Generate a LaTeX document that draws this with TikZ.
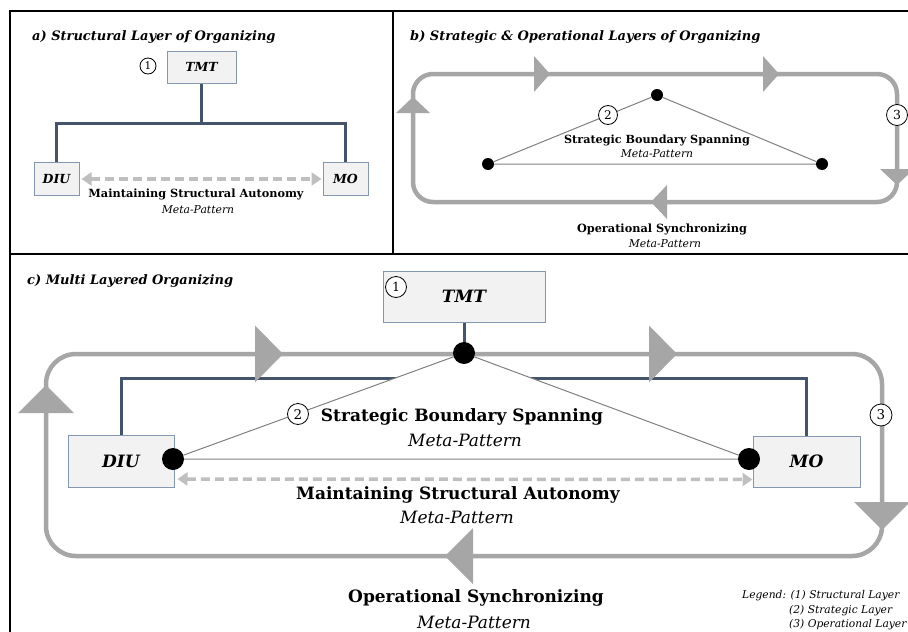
\documentclass[tikz,border=0pt]{standalone}
\usepackage{fontspec}
\setmainfont{DejaVu Serif}
\usetikzlibrary{arrows.meta,positioning}
\definecolor{slate}{HTML}{44546A}
\definecolor{flowgray}{HTML}{A6A6A6}
\definecolor{boxfill}{HTML}{F2F2F2}
\definecolor{boxline}{HTML}{8497B0}
\definecolor{dashgray}{HTML}{BFBFBF}
\definecolor{thingray}{HTML}{808080}

\newcommand{\fsz}[1]{\fontsize{#1}{#1}\selectfont}
% big flow triangles: tip, angle, length, half width
\newcommand{\flowtip}[4]{\fill[flowgray,shift={(#1)},rotate=#2] (0,0) -- (-#3,#4) -- (-#3,-#4) -- cycle;}

\tikzset{
  frameline/.style={draw=black,line width=2.5pt},
  unitbox/.style={draw=boxline,fill=boxfill,line width=1pt,inner sep=0pt,font=\fsz{#1}\bfseries\itshape},
  layernum/.style={circle,draw,fill=white,inner sep=0pt,line width=0.8pt,font=\fsz{#1}},
  spot/.style={circle,fill=black,inner sep=0pt},
  structline/.style={draw=slate,line width=3pt},
  stratline/.style={draw=thingray,line width=1pt},
  flowline/.style={draw=flowgray,line width=4.5pt},
  autoline/.style={draw=dashgray,line width=3.5pt,dash pattern=on 9pt off 5pt,
    {Triangle[length=10pt,width=13pt]}-{Triangle[length=10pt,width=13pt]}},
  paneltitle/.style={anchor=west,inner sep=0pt,font=\fsz{13}\bfseries\itshape},
  patname/.style={inner sep=0pt,font=\fsz{#1}\bfseries},
  metaname/.style={inner sep=0pt,font=\fsz{#1}\itshape},
}

\begin{document}
\begin{tikzpicture}[x=1pt,y=-1pt]
\useasboundingbox (0,0) rectangle (908,632);
\clip (0,0) rectangle (908,632);
\fill[white] (0,0) rectangle (908,632);

% panel frames
\draw[frameline] (10,632) -- (10,11) -- (908,11);
\draw[frameline] (10,254) -- (908,254);
\draw[frameline] (393,11) -- (393,254);

% a) structural layer
\node[paneltitle] (titleA) at (32,37) {a) Structural Layer of Organizing};
\node[unitbox=12.5,minimum width=69pt,minimum height=32pt] (tmtA) at (201.5,67) {TMT};
\node[unitbox=12.5,minimum width=45pt,minimum height=33pt] (diuA) at (56.5,179) {DIU};
\node[unitbox=12.5,minimum width=45pt,minimum height=33pt] (moA) at (345.5,179) {MO};
\node[layernum=10.5,minimum size=16pt] (oneA) at (148,66) {1};
\coordinate (busA) at (201.5,123);
\draw[structline] (tmtA) -- (busA);
\draw[structline] (diuA.north) |- (busA) -| (moA.north);
\draw[autoline,shorten <=2pt,shorten >=1pt] (diuA) -- (moA);
\node[patname=11.3] (autoA) at (196,194) {Maintaining Structural Autonomy};
\node[metaname=10.8] (metaA) at (198,210) {Meta-Pattern};

% b) strategic & operational layers
\node[paneltitle] (titleB) at (410,37) {b) Strategic \& Operational Layers of Organizing};
\draw[flowline,rounded corners=20pt] (413,74) rectangle (897,202);
\flowtip{550,74}{0}{16}{18}
\flowtip{779,74}{0}{16}{18}
\flowtip{413,97}{90}{16}{17}
\flowtip{897,185}{-90}{16}{17}
\flowtip{651,202}{180}{16}{17}
\node[spot,minimum size=12pt] (apexB) at (657,95) {};
\node[spot,minimum size=12pt] (leftB) at (488,164) {};
\node[spot,minimum size=12pt] (rightB) at (822,164) {};
\draw[stratline] (leftB) -- (apexB) -- (rightB) -- (leftB);
\node[layernum=12,minimum size=19pt] (twoB) at (608,115) {2};
\node[layernum=12.5,minimum size=21pt] (threeB) at (897,115) {3};
\node[patname=11.2] (spanB) at (657,140) {Strategic Boundary Spanning};
\node[metaname=10.8] (metaB1) at (657,154) {Meta-Pattern};
\node[patname=11.3] (syncB) at (662,229) {Operational Synchronizing};
\node[metaname=10.8] (metaB2) at (665,244) {Meta-Pattern};

% c) multi layered
\node[paneltitle] (titleC) at (27,281) {c) Multi Layered Organizing};
\node[unitbox=17,minimum width=162pt,minimum height=51pt] (tmtC) at (464,296.5) {TMT};
\node[unitbox=17,minimum width=106pt,minimum height=52pt] (diuC) at (121,461) {DIU};
\node[unitbox=17,minimum width=107pt,minimum height=51pt] (moC) at (806.5,461.5) {MO};
\node[layernum=12.5,minimum size=21pt] (oneC) at (396,287) {1};
\coordinate (apexCpos) at (464,353);
\coordinate (diuDotpos) at (173,459);
\coordinate (moDotpos) at (749,459);
\coordinate (busC) at (464,378);
\draw[structline] (tmtC) -- (apexCpos);
\draw[structline] (diuC.north) |- (busC) -| (moC.north);
\fill[white] (diuDotpos) -- (apexCpos) -- (moDotpos) -- cycle;
\draw[flowline,rounded corners=30pt] (46,354) rectangle (882,556);
\flowtip{283,354}{0}{28}{28.5}
\flowtip{677,354}{0}{28}{28.5}
\flowtip{46,385}{90}{28}{28}
\flowtip{882,530}{-90}{28}{28}
\flowtip{445,556}{180}{28}{28}
\node[spot,minimum size=22pt] (apexC) at (apexCpos) {};
\node[spot,minimum size=22pt] (diuDot) at (diuDotpos) {};
\node[spot,minimum size=22pt] (moDot) at (moDotpos) {};
\draw[stratline] (diuDot) -- (apexC) -- (moDot) -- (diuDot);
\draw[autoline,shorten <=3pt] ([yshift=-18pt]diuC.east) -- ([yshift=-18pt]moC.west);
\node[layernum=13.5,minimum size=21pt] (twoC) at (298,414) {2};
\node[layernum=13.5,minimum size=22pt] (threeC) at (881,415) {3};
\node[patname=17] (spanC) at (462,417) {Strategic Boundary Spanning};
\node[metaname=17] (metaC1) at (465,440) {Meta-Pattern};
\node[patname=17] (autoC) at (458,495) {Maintaining Structural Autonomy};
\node[metaname=17] (metaC2) at (457,517) {Meta-Pattern};
\node[patname=17] (syncC) at (476,598) {Operational Synchronizing};
\node[metaname=17] (metaC3) at (474,622) {Meta-Pattern};

% legend
\node[metaname=10.7,anchor=west] (legend1) at (742,596) {Legend: (1) Structural Layer};
\node[metaname=10.7,anchor=west] (legend2) at (789,611) {(2) Strategic Layer};
\node[metaname=10.7,anchor=west] (legend3) at (789,625) {(3) Operational Layer};
\end{tikzpicture}
\end{document}
